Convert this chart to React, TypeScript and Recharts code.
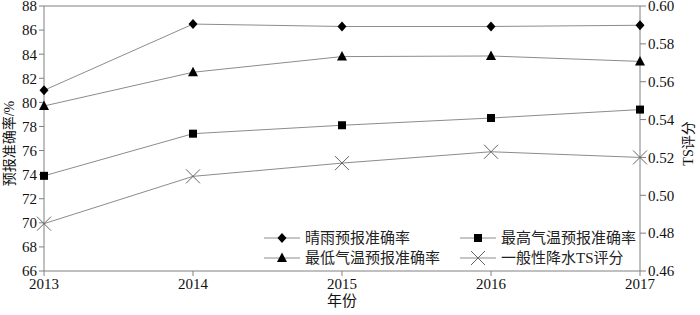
import React from "react";
import { LineChart, Line, XAxis, YAxis, ReferenceLine } from "recharts";

const years = ["2013", "2014", "2015", "2016", "2017"];
const sunnyRain = [81.0, 86.5, 86.3, 86.3, 86.4];
const maxTemp = [73.9, 77.4, 78.1, 78.7, 79.4];
const minTemp = [79.7, 82.5, 83.8, 83.85, 83.4];
const precipTS = [0.485, 0.51, 0.517, 0.523, 0.52];

const leftTicks = [66, 68, 70, 72, 74, 76, 78, 80, 82, 84, 86, 88];
const rightTicks = [0.46, 0.48, 0.5, 0.52, 0.54, 0.56, 0.58, 0.6];

const data = years.map((y, i) => ({
  year: y,
  sunnyRain: sunnyRain[i],
  maxTemp: maxTemp[i],
  minTemp: minTemp[i],
  precipTS: precipTS[i],
}));

const FONT = "'Liberation Serif', 'Times New Roman', 'DejaVu Serif', 'Noto Sans CJK SC', serif";
const LINE = "#8c8c8c";
const AXIS = "#808080";
const tickStyle = { fill: "#111", fontSize: 15, fontFamily: FONT };

// marker shapes
const Diamond = ({ cx, cy }: any) => (
  <polygon points={`${cx},${cy - 5} ${cx + 4.5},${cy} ${cx},${cy + 5} ${cx - 4.5},${cy}`} fill="#000" />
);
const Square = ({ cx, cy }: any) => <rect x={cx - 4} y={cy - 4} width={8} height={8} fill="#000" />;
const Triangle = ({ cx, cy }: any) => (
  <polygon points={`${cx},${cy - 5.5} ${cx + 5},${cy + 4} ${cx - 5},${cy + 4}`} fill="#000" />
);
const Cross = ({ cx, cy }: any) => (
  <g stroke="#666" strokeWidth={1}>
    <line x1={cx - 7} y1={cy - 7} x2={cx + 7} y2={cy + 7} />
    <line x1={cx - 7} y1={cy + 7} x2={cx + 7} y2={cy - 7} />
  </g>
);

const legendItems = [
  { name: "晴雨预报准确率", Shape: Diamond },
  { name: "最高气温预报准确率", Shape: Square },
  { name: "最低气温预报准确率", Shape: Triangle },
  { name: "一般性降水TS评分", Shape: Cross },
];

// legend sits inside the plot area, lower right
const ChartLegend = () => (
  <div
    style={{
      position: "absolute",
      left: 262,
      top: 229,
      display: "grid",
      gridTemplateColumns: "196px 200px",
      rowGap: 2,
      fontFamily: FONT,
      fontSize: 15,
      color: "#222",
      lineHeight: "18px",
    }}
  >
    {legendItems.map(({ name, Shape }) => (
      <div key={name} style={{ display: "flex", alignItems: "center", height: 18 }}>
        <svg width={40} height={18} style={{ marginRight: 3 }}>
          <line x1={2} y1={9} x2={38} y2={9} stroke={LINE} />
          <Shape cx={20} cy={9} />
        </svg>
        <span>{name}</span>
      </div>
    ))}
  </div>
);

const App = () => {
  return (
    <div style={{ position: "absolute", left: 0, top: 0, width: 700, height: 315, background: "#fff", fontFamily: FONT }}>
      <LineChart width={700} height={315} data={data} margin={{ top: 6, right: 0, left: 0, bottom: 0 }}>
        <XAxis
          dataKey="year"
          stroke={AXIS}
          tickSize={5}
          tick={tickStyle}
          height={44}
          label={{
            content: ({ viewBox }: any) => (
              <text x={viewBox.x + viewBox.width / 2} y={306} textAnchor="middle" fontSize={15} fontFamily={FONT} fill="#111">
                年份
              </text>
            ),
          }}
        />
        <YAxis
          yAxisId="left"
          domain={[66, 88]}
          ticks={leftTicks}
          interval={0}
          width={44}
          stroke={AXIS}
          tickSize={5}
          tick={tickStyle}
          label={{
            content: ({ viewBox }: any) => {
              const cx = 11;
              const cy = viewBox.y + viewBox.height / 2 + 5;
              return (
                <text x={cx} y={cy} transform={`rotate(-90 ${cx} ${cy})`} textAnchor="middle" dominantBaseline="middle" fontSize={14} fontFamily={FONT} fill="#111">
                  预报准确率/%
                </text>
              );
            },
          }}
        />
        <YAxis
          yAxisId="right"
          orientation="right"
          domain={[0.46, 0.6]}
          ticks={rightTicks}
          interval={0}
          width={60}
          stroke={AXIS}
          tickSize={6}
          tickFormatter={(v: number) => v.toFixed(2)}
          tick={tickStyle}
          label={{
            content: ({ viewBox }: any) => {
              const cx = 690;
              const cy = viewBox.y + viewBox.height / 2 + 5;
              return (
                <text x={cx} y={cy} transform={`rotate(-90 ${cx} ${cy})`} textAnchor="middle" dominantBaseline="middle" fontSize={14} fontFamily={FONT} fill="#111">
                  TS评分
                </text>
              );
            },
          }}
        />
        <ReferenceLine yAxisId="left" y={88} stroke={AXIS} />
        <Line yAxisId="left" dataKey="sunnyRain" name="晴雨预报准确率" stroke={LINE} strokeWidth={1} isAnimationActive={false}
          dot={(p: any) => <Diamond key={p.index} cx={p.cx} cy={p.cy} />} />
        <Line yAxisId="left" dataKey="maxTemp" name="最高气温预报准确率" stroke={LINE} strokeWidth={1} isAnimationActive={false}
          dot={(p: any) => <Square key={p.index} cx={p.cx} cy={p.cy} />} />
        <Line yAxisId="left" dataKey="minTemp" name="最低气温预报准确率" stroke={LINE} strokeWidth={1} isAnimationActive={false}
          dot={(p: any) => <Triangle key={p.index} cx={p.cx} cy={p.cy} />} />
        <Line yAxisId="right" dataKey="precipTS" name="一般性降水TS评分" stroke={LINE} strokeWidth={1} isAnimationActive={false}
          dot={(p: any) => <Cross key={p.index} cx={p.cx} cy={p.cy} />} />
      </LineChart>
      <ChartLegend />
    </div>
  );
};

export default App;
